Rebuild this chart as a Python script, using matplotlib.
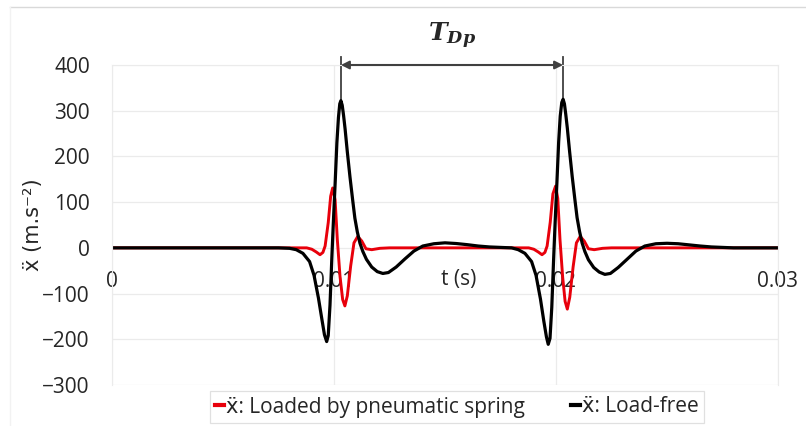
import numpy as np
import matplotlib
matplotlib.use('Agg')
import matplotlib.pyplot as plt
from matplotlib.lines import Line2D

plt.rcParams['font.family'] = ['Open Sans', 'DejaVu Sans']

# time in ms, acceleration in m/s^2
t_free = [0, 7.5, 8.0, 8.3, 8.6, 8.9, 9.1, 9.3, 9.45, 9.57, 9.67, 9.74, 9.82, 9.9, 9.97,
          10.05, 10.13, 10.2, 10.26, 10.31, 10.37, 10.43, 10.5, 10.6, 10.72, 10.84, 10.94,
          11.05, 11.17, 11.3, 11.46, 11.7, 11.95, 12.2, 12.45, 12.8, 13.2, 13.6, 14.0, 14.5,
          15.0, 15.5, 16.0, 16.5, 17.0, 17.5, 18.0,
          18.3, 18.6, 18.9, 19.1, 19.3, 19.45, 19.57, 19.65, 19.73, 19.81, 19.89, 19.96,
          20.04, 20.12, 20.19, 20.26, 20.32, 20.38, 20.44, 20.51, 20.61, 20.73, 20.85, 20.95,
          21.06, 21.18, 21.3, 21.46, 21.7, 21.95, 22.2, 22.45, 22.8, 23.2, 23.6, 24.0, 24.5,
          25.0, 25.5, 26.0, 26.5, 27.0, 27.5, 28.0, 30.0]
acc_free = [0, 0, -1, -4, -12, -30, -60, -110, -155, -190, -205, -192, -125, -25, 55,
            140, 230, 285, 315, 322, 312, 290, 260, 210, 155, 105, 65,
            35, 10, -8, -25, -42, -52, -56, -54, -42, -24, -7, 4, 9,
            11, 9.5, 7, 4, 2, 1, 0,
            -4, -12, -30, -60, -112, -160, -195, -211, -198, -130, -28, 55,
            142, 232, 288, 318, 325, 315, 292, 262, 212, 156, 106, 66,
            36, 10, -8, -26, -43, -53, -58, -56, -43, -25, -7, 4, 9,
            10, 9, 6.5, 4, 2, 1, 0, 0]

t_loaded = [0, 8.77, 9.0, 9.2, 9.37, 9.5, 9.6, 9.74, 9.85, 9.94, 10.05, 10.15, 10.27, 10.39,
            10.49, 10.6, 10.75, 10.9, 11.07, 11.25, 11.44, 11.7, 12.07, 12.5,
            18.77, 19.0, 19.2, 19.37, 19.5, 19.6, 19.74, 19.86, 19.98, 20.08, 20.18, 20.3,
            20.41, 20.51, 20.62, 20.77, 20.92, 21.09, 21.27, 21.46, 21.72, 22.1, 22.5, 30.0]
acc_loaded = [0, 0, -3, -9, -15, -10, 4, 55, 113, 131, 105, 18, -62, -113,
              -127, -105, -40, 11, 25, 15, -2, -4, -1, 0,
              0, -3, -9, -15, -10, 4, 56, 118, 135, 108, 18, -64, -117,
              -134, -108, -42, 11, 25, 15, -2, -4, -1, 0, 0]

t_free = np.array(t_free) / 1000
t_loaded = np.array(t_loaded) / 1000
acc_free = np.array(acc_free)

fig = plt.figure(figsize=(8.06, 4.26), dpi=100)
ax = fig.add_axes([112 / 806, 1 - 385 / 426, 666 / 806, 320 / 426])

ax.plot(t_loaded, acc_loaded, color='#e8000b', lw=2.1, label='ẍ: Loaded by pneumatic spring',
        solid_joinstyle='round')
ax.plot(t_free, acc_free, color='black', lw=2.3, label='ẍ: Load-free', solid_joinstyle='round')

ax.set_xlim(0, 0.03)
ax.set_ylim(-300, 400)
ax.set_yticks(range(-300, 401, 100))
ax.set_xticks([0, 0.01, 0.02, 0.03])
ax.set_xticklabels(['0', '0.01', '0.02', '0.03'])
ax.grid(True, color='#ebebeb', lw=0.9)
ax.set_axisbelow(True)
ax.spines['bottom'].set_position(('data', 0))
ax.spines['bottom'].set_visible(False)
for s in ['top', 'left', 'right']:
    ax.spines[s].set_color('#ebebeb')
ax.tick_params(length=0, labelsize=15, colors='#262626')
ax.tick_params(axis='x', pad=17)
ax.tick_params(axis='y', pad=16)

ax.text(0.0156, -69, 't (s)', fontsize=15, color='#262626', ha='center', va='center')
fig.text(33 / 806, 1 - 225 / 426, 'ẍ (m.s⁻²)', fontsize=15, color='#262626',
         rotation=90, ha='center', va='center', family=['DejaVu Sans'])

# period annotation between the two load-free peaks
half = len(t_free) // 2
i1 = np.argmax(acc_free[:half])
i2 = half + np.argmax(acc_free[half:])
t1, t2 = t_free[i1], t_free[i2]
for tp, ap in [(t1, acc_free[i1]), (t2, acc_free[i2])]:
    ax.plot([tp, tp], [ap, 418], color='#404040', lw=1.3, clip_on=False, zorder=1)
ax.annotate('', xy=(t2, 400), xytext=(t1, 400),
            arrowprops=dict(arrowstyle='<|-|>', color='#404040', lw=1.5,
                            shrinkA=0, shrinkB=0, mutation_scale=12),
            annotation_clip=False)
ax.text((t1 + t2) / 2, 463, r'$\mathbfit{T}_{\mathbfit{Dp}}$', fontsize=18,
        ha='center', va='center', color='#262626', math_fontfamily='dejavuserif')

leg = ax.legend(loc='center', bbox_to_anchor=(457 / 806, 1 - 407 / 426),
                bbox_transform=fig.transFigure, ncol=2, frameon=True, fancybox=False,
                fontsize=15, handlelength=0.45, handletextpad=0.1, columnspacing=2.2,
                borderpad=0.25, borderaxespad=0)
leg.get_frame().set_edgecolor('#d9d9d9')
leg.get_frame().set_linewidth(0.9)
for line in leg.get_lines():
    line.set_linewidth(3)
for txt in leg.get_texts():
    txt.set_color('#262626')

# outer chart frame (top and left edges only are visible)
fig.add_artist(Line2D([10 / 806, 1], [1 - 7 / 426, 1 - 7 / 426], color='#d9d9d9', lw=1))
fig.add_artist(Line2D([10 / 806, 10 / 806], [0, 1 - 7 / 426], color='#f2f2f2', lw=1))

fig.savefig('out.png', dpi=100)
